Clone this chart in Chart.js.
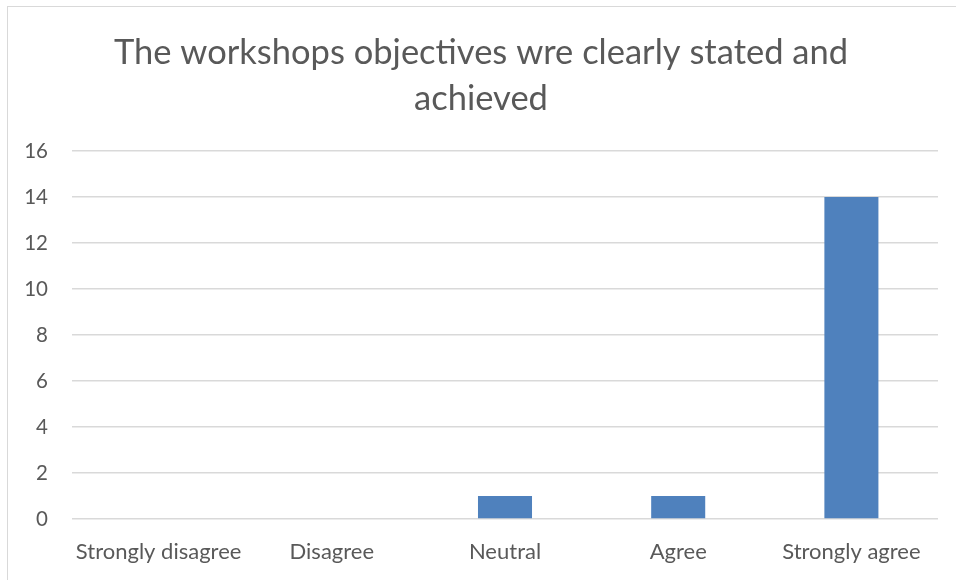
<!DOCTYPE html>
<html>
<head>
<meta charset="utf-8">
<script src="https://cdn.jsdelivr.net/npm/chart.js@4"></script>
<style>
  html, body { margin: 0; padding: 0; background: #fff; }
  #wrap { position: relative; width: 956px; height: 580px; overflow: hidden; }
  #frame { position: absolute; left: 7px; top: 6px; width: 960px; height: 590px;
           border-left: 1px solid #d9d9d9; border-top: 1px solid #d9d9d9; }
  canvas { position: absolute; left: 0; top: 0; }
</style>
</head>
<body>
<div id="wrap">
  <div id="frame"></div>
  <canvas id="chart" width="956" height="580"></canvas>
</div>
<script>
const categories = ['Strongly disagree', 'Disagree', 'Neutral', 'Agree', 'Strongly agree'];
const responses = [0, 0, 1, 1, 14];
const titleLines = ['The workshops objectives wre clearly stated and', 'achieved'];

const textColor = '#595959';
const fontFamily = "Lato, 'Open Sans', sans-serif";

const ctx = document.getElementById('chart').getContext('2d');
const barChart = new Chart(ctx, {
    type: 'bar',
    data: {
        labels: categories,
        datasets: [{
            label: 'Responses',
            data: responses,
            backgroundColor: '#4f81bd',
            borderWidth: 0,
            categoryPercentage: 1,
            barPercentage: 0.312
        }]
    },
    options: {
        responsive: false,
        animation: false,
        layout: {
            // bigger left padding pushes the title a bit to the right
            padding: { left: 24, right: 18, top: 0, bottom: 0 }
        },
        plugins: {
            legend: { display: false },
            tooltip: { enabled: false },
            title: {
                display: true,
                text: titleLines,
                color: textColor,
                font: { family: fontFamily, size: 34.5, weight: 'normal', lineHeight: 1.333 },
                padding: { top: 30, bottom: 29 }
            }
        },
        scales: {
            x: {
                grid: { display: false },
                border: { display: false },
                ticks: {
                    color: textColor,
                    font: { family: fontFamily, size: 22 },
                    padding: 12,
                    maxRotation: 0
                },
                afterFit: (scale) => { scale.height = 61; }
            },
            y: {
                min: 0,
                max: 16,
                ticks: {
                    stepSize: 2,
                    color: textColor,
                    font: { family: fontFamily, size: 20.5 },
                    padding: 24
                },
                grid: { color: '#d9d9d9', lineWidth: 1.5, drawTicks: false },
                border: { display: false },
                afterFit: (scale) => { scale.width = 48; }
            }
        }
    }
});
</script>
</body>
</html>
